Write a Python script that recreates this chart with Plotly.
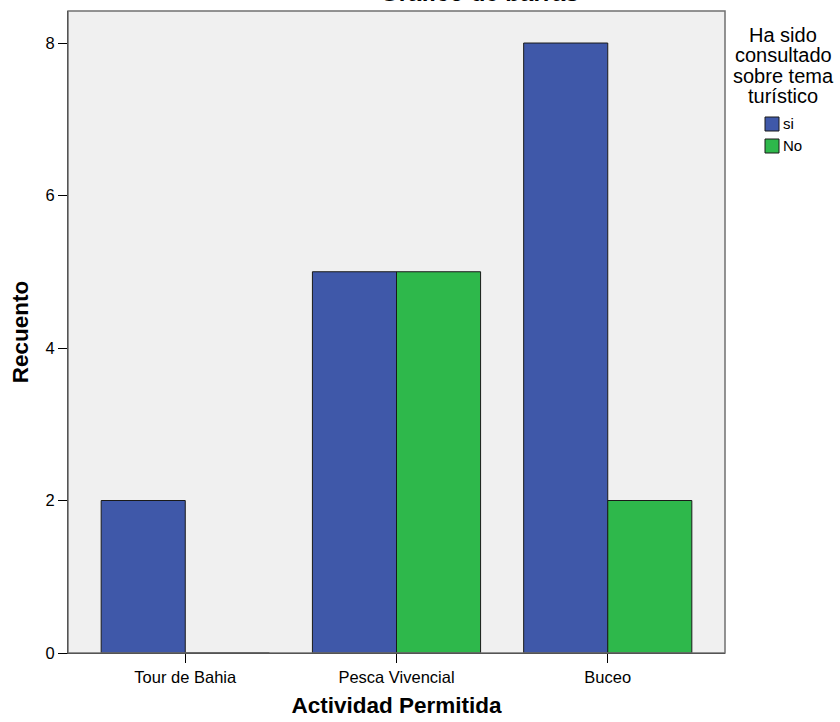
import plotly.graph_objects as go

categories = ["Tour de Bahia", "Pesca Vivencial", "Buceo"]
series_names = ["si", "No"]
values_si = [2, 5, 8]
values_no = [0, 5, 2]
y_ticks = [0, 2, 4, 6, 8]
legend_title_lines = ["Ha sido", "consultado", "sobre tema", "turístico"]

colors = ["#3f58a9", "#2eb84b"]
FONT = "Liberation Sans, Arial, sans-serif"

fig = go.Figure()
for name, vals, col in zip(series_names, [values_si, values_no], colors):
    fig.add_trace(go.Bar(
        x=categories, y=vals, name=name,
        marker=dict(color=col, line=dict(color="#1a1a1a", width=1)),
        showlegend=False,
    ))

W, H = 840, 722
L, R, T, B = 68, 115, 11, 69
PW, PH = W - L - R, H - T - B


def px_x(x):
    return (x - L) / PW


def px_y(y):
    return 1 - (y - T) / PH


fig.update_layout(
    width=W, height=H,
    margin=dict(l=L, r=R, t=T, b=B, pad=0, autoexpand=False),
    paper_bgcolor="white",
    plot_bgcolor="#f0f0f0",
    barmode="group",
    bargap=0.204,
    bargroupgap=0,
    font=dict(family=FONT, color="#000000", size=16),
)

fig.update_xaxes(
    range=[-0.555, 2.555],
    showgrid=False, zeroline=False,
    showline=True, linecolor="#000000", linewidth=1,
    ticks="outside", ticklen=9, tickcolor="#000000",
    tickfont=dict(size=16.5, family=FONT),
    title=dict(text="<b>Actividad Permitida</b>", font=dict(size=22.5, family=FONT), standoff=12),
)
fig.update_yaxes(
    range=[0, 8.42],
    tickvals=y_ticks,
    showgrid=False, zeroline=False,
    showline=True, linecolor="#000000", linewidth=1,
    ticks="outside", ticklen=9, tickcolor="#000000",
    tickfont=dict(size=16.5, family=FONT),
    title=dict(text="<b>Recuento</b>", font=dict(size=22.5, family=FONT), standoff=10),
)

# plot border (top/right)
fig.add_shape(type="rect", xref="paper", yref="paper", x0=0, x1=1, y0=0, y1=1,
              line=dict(color="#707070", width=1.5), fillcolor="rgba(0,0,0,0)", layer="above")

# chart title (cut off at top as in reference)
fig.add_annotation(text="<b>Gráfico de barras</b>", xref="paper", yref="paper",
                   x=px_x(479), y=1, yshift=3, yanchor="bottom",
                   showarrow=False, font=dict(size=24, family=FONT, color="#000"))

# legend title lines
for i, line in enumerate(legend_title_lines):
    baseline = 42 + i * 20.5
    fig.add_annotation(text=line, xref="paper", yref="paper",
                       x=px_x(783), y=px_y(baseline - 7),
                       xanchor="center", yanchor="middle", showarrow=False,
                       font=dict(size=20, family=FONT, color="#000"))

# legend items
for i, (name, col) in enumerate(zip(series_names, colors)):
    ytop = 117 + i * 22
    fig.add_shape(type="rect", xref="paper", yref="paper",
                  x0=px_x(765), x1=px_x(779), y0=px_y(ytop + 14), y1=px_y(ytop),
                  fillcolor=col, line=dict(color="#1a1a1a", width=1))
    fig.add_annotation(text=name, xref="paper", yref="paper",
                       x=px_x(781), y=px_y(ytop + 7),
                       xanchor="left", yanchor="middle", showarrow=False,
                       font=dict(size=15, family=FONT, color="#000"))

fig.write_html(
    "out.html",
    config={"displayModeBar": False},
    post_script="document.body.style.margin='0';document.body.style.padding='0';document.body.style.overflow='hidden';",
)
